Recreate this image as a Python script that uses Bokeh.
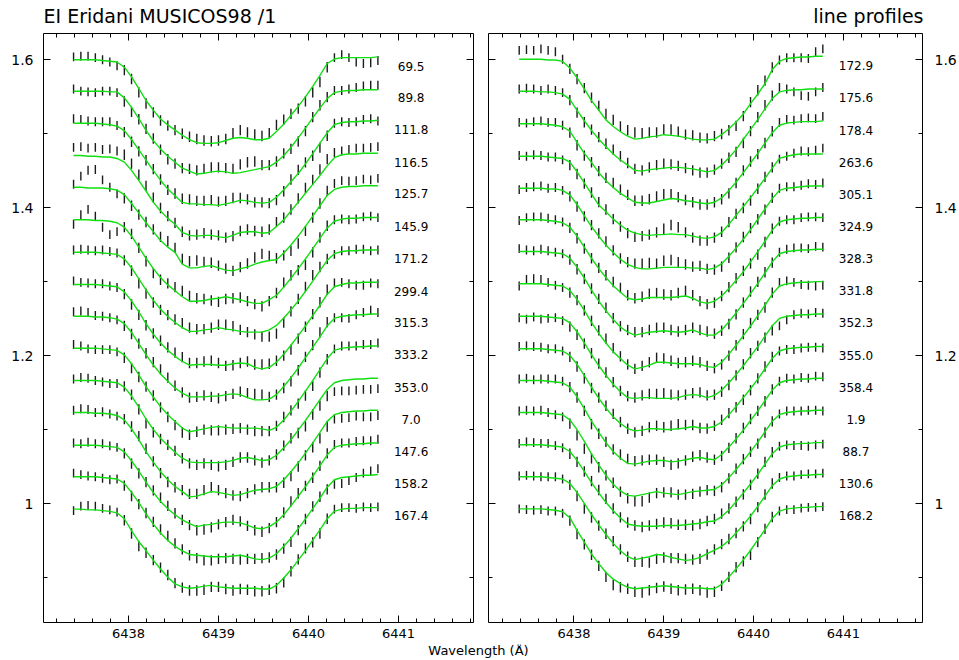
from bokeh.plotting import figure
from bokeh.models import Range1d, LinearAxis, SingleIntervalTicker, FixedTicker, Label
from bokeh.layouts import column, row
from bokeh.embed import file_html
from bokeh.resources import INLINE
from bokeh.core.properties import value

# ---------------- data ----------------
wave = [6437.390, 6437.471, 6437.551, 6437.632, 6437.712, 6437.793, 6437.873, 6437.954,
        6438.034, 6438.115, 6438.195, 6438.276, 6438.356, 6438.437, 6438.517, 6438.598,
        6438.678, 6438.759, 6438.839, 6438.920, 6439.000, 6439.081, 6439.161, 6439.242,
        6439.322, 6439.403, 6439.483, 6439.564, 6439.644, 6439.725, 6439.805, 6439.886,
        6439.966, 6440.047, 6440.127, 6440.208, 6440.288, 6440.369, 6440.449, 6440.530,
        6440.610, 6440.691, 6440.771]

# error bar half-lengths (units of 0.001)
err = [6, 6, 6, 6, 6, 6, 6, 7, 7, 7, 7, 7, 7, 7, 7, 7, 7, 7, 7, 7, 7, 7,
       7, 7, 7, 7, 7, 7, 7, 7, 7, 7, 7, 7, 7, 7, 6, 6, 6, 6, 6, 6, 6]

left_phase = ["69.5", "89.8", "111.8", "116.5", "125.7", "145.9", "171.2", "299.4",
              "315.3", "333.2", "353.0", "7.0", "147.6", "158.2", "167.4"]
right_phase = ["172.9", "175.6", "178.4", "263.6", "305.1", "324.9", "328.3", "331.8",
               "352.3", "355.0", "358.4", "1.9", "88.7", "130.6", "168.2"]

left_offset = [1.5996, 1.5572, 1.5139, 1.4703, 1.4274, 1.3834, 1.3396, 1.2959,
               1.2531, 1.2099, 1.1662, 1.1230, 1.0788, 1.0361, 0.9924]
right_offset = [1.6004, 1.5572, 1.5131, 1.4693, 1.4261, 1.3834, 1.3405, 1.2969,
                1.2531, 1.2091, 1.1662, 1.1230, 1.0793, 1.0361, 0.9928]

# model line depth below continuum (units of 0.001)
left_model = [
    [0,0,0,0,1,2,3,10,23,39,55,68,80,88,95, 102,108,112,113,113,112,109,106,105,106,108,108,106, 97,87,75,63,50,36,21,5,-1,-3,-3,-3,-3,-3,-4],
    [0,0,0,0,0,1,1,9,22,37,53,67,78,88,96, 104,108,112,111,109,108,109,111,110,108,106,104,102, 96,87,76,63,50,36,23,10,2,0,-1,-1,-2,-2,-2],
    [0,0,0,0,1,2,4,10,22,36,50,64,77,89,98, 107,109,109,110,110,111,109,107,104,105,107,108,107, 100,90,79,68,55,41,27,13,2,-1,-2,-2,-3,-3,-4],
    [0,0,1,1,2,2,4,9,20,34,48,63,75,85,93, 104,108,109,108,108,110,111,108,104,103,103,105,104, 96,87,75,63,51,39,27,14,3,-1,-2,-2,-3,-3,-3],
    [0,0,1,1,1,2,4,10,22,35,48,60,72,81,88, 104,109,109,107,106,109,112,113,110,108,104,101,99, 98,89,78,66,53,39,25,11,3,0,-1,-1,-2,-2,-2],
    [0,0,0,1,1,2,4,10,22,37,52,66,78,88,96, 104,110,110,109,107,106,104,106,108,111,113,113,108, 102,91,79,66,53,39,25,11,2,-1,-2,-2,-3,-3,-3],
    [0,0,0,0,1,2,3,9,21,36,51,65,77,87,95, 102,107,107,105,104,102,104,105,107,108,108,108,105, 99,89,78,66,53,39,25,11,2,-1,-2,-2,-3,-3,-3],
    [0,0,0,0,1,2,3,10,22,37,53,67,79,89,97, 104,109,108,108,108,109,109,107,106,107,112,114,112, 105,94,82,69,56,42,28,13,3,0,-2,-2,-3,-3,-3],
    [0,0,0,1,1,2,4,10,22,37,52,66,78,88,97, 104,109,109,109,108,108,106,105,106,110,113,113,112, 106,95,83,70,56,42,28,13,3,0,-1,-2,-2,-3,-3],
    [0,0,0,0,1,2,3,9,21,36,52,66,79,90,99, 108,113,111,109,107,106,107,108,108,108,108,109,111, 107,97,85,72,58,44,29,14,3,0,-1,-2,-2,-3,-3],
    [0,0,0,0,1,2,3,9,21,36,52,66,78,88,97, 105,110,111,111,111,111,110,108,105,104,106,108,107, 101,91,80,67,54,40,26,12,3,0,-1,-2,-2,-3,-3],
    [0,0,0,1,1,2,4,10,22,37,53,67,80,91,100, 107,114,113,110,107,108,110,112,111,108,105,104,103, 100,91,80,68,55,41,27,12,3,0,-1,-2,-2,-3,-3],
    [0,0,0,0,1,2,3,9,21,35,50,64,76,86,94, 101,106,110,108,107,105,104,104,105,108,112,113,110, 104,94,82,69,56,42,28,13,3,0,-1,-2,-2,-3,-3],
    [0,0,0,0,1,2,3,9,21,35,50,64,76,86,94, 100,105,106,107,108,108,108,107,106,108,111,112,110, 104,94,83,70,57,43,29,14,4,1,0,-1,-2,-2,-3],
    [0,0,1,1,2,3,5,13,29,44,56,69,81,92,101, 105,107,106,104,103,105,106,107,107,107,107,108,108, 103,93,82,69,56,42,28,13,3,0,-1,-1,-2,-2,-2],
]

right_model = [
    [0,0,0,0,1,1,3,12,25,40,56,69,82,91,98, 104,108,107,105,104,102,103,104,106,108,109,109,108, 102,94,85,74,60,47,33,14,3,-1,-2,-3,-3,-4,-4],
    [0,0,0,1,1,2,4,11,26,40,53,65,75,85,93, 100,107,108,106,105,104,103,103,104,105,107,109,107, 100,90,79,65,52,38,24,10,1,-1,-2,-2,-3,-3,-3],
    [0,0,0,0,1,2,4,10,25,40,52,66,77,86,94, 100,106,107,107,105,103,101,102,104,105,107,108,106, 100,90,79,66,53,40,26,12,2,-1,-2,-3,-3,-3,-4],
    [0,0,0,0,1,2,3,8,21,36,51,66,75,85,93, 100,104,106,107,106,106,105,106,106,108,110,111,109, 103,92,80,68,56,43,30,16,3,0,-2,-3,-3,-3,-3],
    [0,0,0,0,1,1,3,9,22,37,52,65,77,87,96, 103,107,109,109,108,107,107,107,107,108,108,110,108, 102,92,81,69,56,42,28,14,3,0,-1,-2,-3,-3,-3],
    [0,0,0,0,1,2,4,10,22,37,52,66,78,89,98, 106,108,107,105,105,105,105,104,103,106,111,113,110, 103,93,82,70,57,43,29,14,3,0,-1,-2,-2,-3,-3],
    [0,0,0,0,1,2,3,9,21,36,52,67,80,92,102, 109,113,111,109,108,107,108,109,108,106,110,113,113, 106,95,83,70,57,43,29,14,3,0,-1,-2,-2,-3,-3],
    [0,0,0,0,1,2,3,9,21,36,52,67,80,92,101, 110,115,113,110,106,106,107,108,108,108,109,112,113, 106,95,83,70,57,43,29,14,3,0,-1,-2,-2,-3,-3],
    [0,0,0,0,1,2,3,9,21,36,52,67,80,92,102, 110,111,110,110,111,111,111,110,107,106,107,110,107, 100,90,79,67,54,41,27,13,3,0,-1,-2,-2,-3,-3],
    [0,0,0,0,1,2,3,9,21,36,52,67,80,92,101, 108,111,110,108,108,109,109,108,107,105,107,107,105, 99,89,78,66,54,41,27,13,3,0,-1,-2,-2,-3,-3],
    [0,0,0,0,1,2,3,9,22,38,55,70,84,96,105, 112,113,111,109,108,108,110,109,107,105,104,106,107, 100,90,79,67,54,41,27,13,3,0,-1,-2,-2,-3,-3],
    [0,0,0,0,1,2,3,10,23,39,56,71,85,97,106, 112,113,111,109,107,109,110,111,109,107,106,105,104, 98,88,77,65,53,40,26,12,3,0,-1,-2,-2,-3,-3],
    [0,0,0,0,1,2,3,9,21,36,51,65,78,89,99, 107,109,110,110,110,109,109,109,108,107,106,104,103, 97,88,77,65,53,40,26,12,3,0,-1,-2,-2,-3,-3],
    [0,0,0,0,1,2,3,9,21,36,51,65,78,90,100, 108,112,110,108,105,106,109,111,113,112,109,104,99, 94,86,76,65,53,40,26,12,3,0,-1,-2,-2,-3,-3],
    [0,0,0,0,1,2,4,12,29,45,61,74,86,95,101, 106,108,107,106,105,104,105,106,107,107,107,108,108, 102,92,81,69,56,42,28,13,3,0,-1,-2,-2,-3,-3],
]

# observed minus model (units of 0.001, positive = above the model line)
left_resid = [
    [4,5,5,3,1, -1,-5,-4,-3,-5, -4,-3,-2,-1,0, 2,4,5,4,3, 3,2,7,10,8, 7,5,7,9,6, 2,-3,-6,-8,-9, -5,2,4,0,-6, -8,-7,-5],
    [3,0,-1,-2,0, 1,-1,-5,-6,-1, 2,3,-1,-4,-2, 0,3,5,6,6, 5,5,6,11,12, 11,4,2,1,3, -2,-5,-4,1,4, 2,3,1,2,4, 5,6,6],
    [6,5,3,2,3, 4,1,-2,-3,-2, 0,2,1,-1,3, 5,6,4,5,6, 5,4,6,3,2, 0,1,-1,-4,-2, 3,5,2,-3,-6, -4,2,1,-1,0, 2,3,-1],
    [11,12,11,12,10, 11,10,10,9,8, 7,6,4,3,2, 1,0,2,3,1, 2,0,-1,2,3, 1,2,4,6,3, 2,5,7,6,8, 9,7,5,6,8, 7,8,9],
    [4,15,24,25,11, 2,-5,-5,-3,-2, 1,3,5,8,6, 7,9,10,6,4, 3,2,0,2,5, 9,11,6,2,-3, -8,-10,-6,-2,3, 6,8,9,7,8, 9,8,10],
    [-6,7,14,6,-9, -18,-12,0,3,-1, -4,-6,-3,2,5, 8,7,4,2,-2, -5,-3,0,3,1, -1,-4,-2,3,6, 4,-2,-8,-5,1, 3,2,0,-2,-1, 1,2,0],
    [3,4,3,2,4, 3,2,-2,-4,-6, -5,-3,-1,2,4, 6,5,3,1,2, 4,6,5,2,0, -3,-6,-9,-11,-6, -2,3,6,8,5, 2,-1,1,0,2, 1,-1,0],
    [5,3,2,1,2, 0,-1,-3,-5,-4, -2,1,3,4,5, 6,3,2,4,5, 3,-1,-2,0,3, 4,6,5,2,-2, -6,-4,-1,2,4, 6,5,3,-1,-3, -4,-1,-2],
    [6,7,5,2,1, 0,-1,-3,-2,0, 2,4,6,5,3, 1,-1,0,2,-1, -3,-2,0,4,6, 8,7,3,0,-2, -5,-3,1,3,6, 5,1,-2,-4,0, 3,5,2],
    [5,3,-1,-2,-1, 0,-2,-4,-6,-3, 0,2,-1,-3,-5, -6,-4,-2,-1,-4, -5,-3,-1,0,-2, -4,-3,-1,2,4, 1,-3,-6,-7,-4, -1,2,3,2,1, 3,2,4],
    [2,4,3,0,-1, -2,-1,1,2,-3, -6,-4,-1,1,2, 0,-2,-3,-1,-3, -5,-4,-2,1,0, -2,-3,-1,1,3, 2,-4,-8,-6,-8, -9,-12,-14,-15,-15, -14,-15,-14],
    [3,5,4,1,2, 0,-1,1,3,5, 4,1,-2,-3,-1, 2,4,3,5,6, 3,1,0,-2,-1, 1,3,2,-1,-4, -6,-5,-3,-6,-8, -7,-6,-8,-8,-7, -8,-9,-7],
    [3,2,4,2,3, 1,0,-2,-4,-3, 0,3,5,4,2, 0,-2,-5,-6,-4, -2,0,3,2,-1, -3,-4,-2,0,3, 6,4,1,-2,0, 2,4,3,2,3, 4,3,5],
    [5,3,1,0,-1, -2,0,-3,-5,-2, 1,3,5,6,4, 2,-1,-4,-6,-5, -3,-2,-4,-6,-3, 0,2,1,-1,-3, -5,-2,0,3,2, -3,-6,-8,-5,-2, 3,6,8],
    [-2,4,6,5,3, 2,1,-2,-4,-6, -3,0,2,3,1, -1,-3,-4,-5,-2, 0,-2,-3,-1,-2, -4,-3,-1,-4,-6, -2,1,3,-3,-5, 0,3,2,1,0, 1,0,1],
]

right_resid = [
    [12,13,12,14,13, 11,3,-1,-2,1, 4,6,8,9,7, 8,9,7,6,5, 7,8,6,4,5, 3,2,4,1,-2, -5,-3,2,5,4, 3,2,1,0,-1, -2,6,10],
    [3,4,3,2,4, 3,2,-1,-3,-2, 1,3,4,6,5, 3,2,1,3,5, 6,4,2,0,-2, -3,-1,1,2,0, -3,-5,-2,3,5, 4,6,2,-3,-8, -10,-4,2],
    [2,1,3,4,3, 4,2,-2,-4,-3, 0,2,4,6,5, 4,2,3,5,7, 8,6,3,1,-1, -2,-1,0,-2,-4, -1,3,2,-1,0, 2,4,5,3,4, 5,4,6],
    [1,0,2,1,0, 1,-2,-4,-3,-1, 2,4,3,0,-2, -4,-5,-2,1,3, 8,12,10,3,-2, -4,-3,-1,1,3, 2,-2,-4,-1,2, 1,-1,0,2,4, 3,5,8],
    [-2,1,2,3,1, 2,0,-2,-3,-1, 2,4,5,3,1, 3,5,7,8,6, 9,10,7,4,2, 3,1,-2,-4,-2, 1,3,2,0,-1, 1,3,2,1,2, 3,2,4],
    [-1,3,4,4,3, 2,1,-1,-3,-2, 0,1,3,5,6, 4,2,3,5,6, 4,3,5,7,4, 1,-1,-2,0,2, 3,1,-2,-4,-1, 2,1,0,-1,1, 2,1,0],
    [4,2,1,3,2, 1,0,-2,-3,-1, 2,3,4,2,1, 3,4,2,3,5, 4,2,1,2,3, 4,5,2,-1,-3, -2,1,3,2,1, -1,2,3,4,3, 2,4,3],
    [-3,6,7,6,3, 0,-2,-3,-1,0, 2,4,6,5,3, 1,0,2,4,6, 5,3,1,2,4, 3,1,-1,-3,-2, 0,2,4,1,-3, 2,5,4,1,-3, -4,-6,-5],
    [-2,-4,-1,-4,-2, 0,-3,-5,-4,-1, 2,3,4,3,1, 2,1,3,5,6, 7,5,3,1,2, 4,3,1,-2,-3, -1,2,4,1,-2, -6,-10,-5,1,2, 1,2,1],
    [3,4,3,2,1, 2,0,-2,-3,-4, -1,1,3,4,2, 0,-2,-1,2,4, 3,5,6,4,2, 0,-1,1,3,2, -1,-3,-2,1,3, 2,0,-1,-2,-1, 0,-1,-2],
    [2,3,1,2,3, 4,2,0,-1,-3, -4,-2,1,3,5, 6,4,3,2,1, -2,-4,-3,-1,2, 3,2,0,-2,-1, 1,3,2,0,-1, 1,2,3,1,2, 1,3,2],
    [2,3,2,3,1, -1,-3,-5,-8,-10, -6,-3,0,2,-1, -4,-7,-9,-6,-2, 1,2,0,-2,-3, -1,0,-2,-3,-1, 1,2,0,-2,-1, 0,1,2,1,0, 1,0,-1],
    [2,4,3,2,3, 1,-1,-3,-2,0, 2,4,5,3,1, 2,0,-1,1,3, 4,3,1,0,-2, -1,1,3,4,2, 0,-2,-1,1,3, 2,1,0,-2,-3, -4,-3,-2],
    [1,2,1,0,1, 2,0,-2,-5,-7, -4,-1,1,3,2, 0,-3,-5,-8,-6, -3,-1,1,2,0, -2,-1,1,3,2, 0,-2,-4,-1,2, 3,2,1,0,1, 2,1,2],
    [0,-1,-2,-1,-2, -1,-2,-4,-5,-3, -1,-3,-6,-8,-5, -2,-4,-6,-4,-2, -1,-3,-4,-2,-1, -3,-5,-4,-2,0, 2,-2,-6,-3,1, 2,0,-1,-2,-1, 0,-1,0],
]

for nm, arrs in [("left_model", left_model), ("right_model", right_model),
                 ("left_resid", left_resid), ("right_resid", right_resid)]:
    for k, a in enumerate(arrs):
        assert len(a) == len(wave), (nm, k, len(a))
assert len(err) == len(wave)

# ---------------- styling ----------------
FONT = "DejaVu Sans"
GREEN = "#10e010"
BAR = "#1c1c1c"
Y_RANGE = (0.83919, 1.63514)
ROW_H = 617
TOP_H = 27
BOT_H = 16
LABEL_X = 6441.14


def style_axis(ax, ticker, labels, standoff=0, size="13px", overrides=None):
    ax.ticker = ticker
    ax.axis_line_color = "black"
    ax.axis_line_width = 1
    ax.major_tick_in = 7
    ax.major_tick_out = 0
    ax.minor_tick_in = 4
    ax.minor_tick_out = 0
    ax.major_tick_line_color = "black"
    ax.minor_tick_line_color = "black"
    ax.major_label_text_font = FONT
    if labels:
        ax.major_label_text_color = "black"
        ax.major_label_text_font_size = size
        ax.major_label_standoff = standoff
        if overrides:
            ax.major_label_overrides = overrides
    else:
        ax.major_label_text_color = None
        ax.major_label_text_alpha = 0
        ax.major_label_text_font_size = "1px"
        ax.major_label_standoff = 0


def make_panel(phases, offsets, models, resids, xr, width, bl, br, left_labels):
    p = figure(width=width, height=ROW_H, x_range=Range1d(*xr), y_range=Range1d(*Y_RANGE),
               output_backend="svg", toolbar_location=None,
               x_axis_location=None, y_axis_location=None,
               min_border_left=bl, min_border_right=br,
               min_border_top=6, min_border_bottom=22)
    p.outline_line_color = None
    p.grid.visible = False

    below = LinearAxis()
    above = LinearAxis()
    left = LinearAxis()
    right = LinearAxis()
    style_axis(below, SingleIntervalTicker(interval=1, num_minor_ticks=5), True, 6, "13px")
    style_axis(above, SingleIntervalTicker(interval=1, num_minor_ticks=5), False)
    yt = lambda: FixedTicker(ticks=[1.0, 1.2, 1.4, 1.6], minor_ticks=[0.9, 1.1, 1.3, 1.5])
    style_axis(left, yt(), left_labels, 10, "14px", {1.0: "1"})
    style_axis(right, yt(), not left_labels, 12, "14px", {1.0: "1"})
    p.add_layout(below, "below")
    p.add_layout(above, "above")
    p.add_layout(left, "left")
    p.add_layout(right, "right")

    x0, y0, y1, mxs, mys = [], [], [], [], []
    for off, mod, res in zip(offsets, models, resids):
        obs = [off - (d - r) / 1000.0 for d, r in zip(mod, res)]
        x0 += wave
        y0 += [o - e / 1000.0 for o, e in zip(obs, err)]
        y1 += [o + e / 1000.0 for o, e in zip(obs, err)]
        mxs.append(wave)
        mys.append([off - d / 1000.0 for d in mod])

    p.segment(x0=x0, y0=y0, x1=x0, y1=y1, line_color=BAR, line_width=1.4)
    p.multi_line(xs=mxs, ys=mys, line_color=GREEN, line_width=1.4)
    p.text(x=[LABEL_X] * len(phases), y=[o - 0.009 for o in offsets], text=phases,
           text_font=value(FONT), text_font_size="12px", text_align="center",
           text_baseline="middle", text_color="black")
    return p


def strip(height):
    s = figure(width=959, height=height, x_range=Range1d(0, 959), y_range=Range1d(0, height),
               output_backend="svg", toolbar_location=None,
               x_axis_location=None, y_axis_location=None, min_border=0)
    s.outline_line_color = None
    s.grid.visible = False
    return s


f1 = make_panel(left_phase, left_offset, left_model, left_resid,
                (6437.056, 6441.833), 480, 43, 7, True)
f2 = make_panel(right_phase, right_offset, right_model, right_resid,
                (6437.048, 6441.881), 479, 8, 36, False)

top = strip(TOP_H)
top.add_layout(Label(x=43, y=TOP_H - 15, text="EI Eridani MUSICOS98 /1",
                     text_font=FONT, text_font_size="19px", text_align="left",
                     text_baseline="middle", text_color="black"))
top.add_layout(Label(x=923, y=TOP_H - 15, text="line profiles",
                     text_font=FONT, text_font_size="19px", text_align="right",
                     text_baseline="middle", text_color="black"))

bottom = strip(BOT_H)
bottom.add_layout(Label(x=478, y=BOT_H - 6, text="Wavelength (Å)", text_font=FONT,
                        text_font_size="13px", text_align="center", text_baseline="middle",
                        text_color="black"))

layout = column(top, row(f1, f2, spacing=0), bottom, spacing=0)

with open("out.html", "w", encoding="utf-8") as fh:
    fh.write(file_html(layout, INLINE))
